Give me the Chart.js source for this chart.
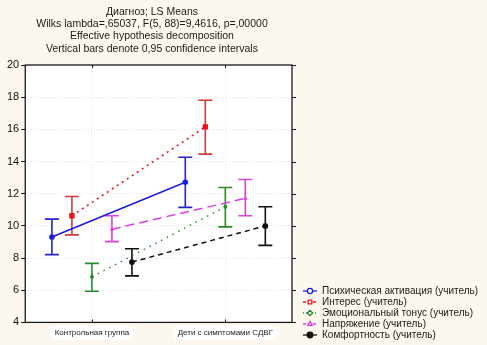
<!DOCTYPE html>
<html>
<head>
<meta charset="utf-8">
<script src="https://cdn.jsdelivr.net/npm/chart.js@4/dist/chart.umd.min.js"></script>
<style>
  html, body { margin: 0; padding: 0; background: #fcf8ef; }
  #wrap { width: 487px; height: 345px; position: relative; }
</style>
</head>
<body>
<div id="wrap"><canvas id="lsMeans"></canvas></div>
<script>
// ---------------------------------------------------------------- data
const titleLines = [
  'Диагноз; LS Means',
  'Wilks lambda=,65037, F(5, 88)=9,4616, p=,00000',
  'Effective hypothesis decomposition',
  'Vertical bars denote 0,95 confidence intervals'
];
const groups = ['Контрольная группа', 'Дети с симптомами СДВГ'];
const seriesNames = [
  'Психическая активация (учитель)',
  'Интерес (учитель)',
  'Эмоциональный тонус (учитель)',
  'Напряжение (учитель)',
  'Комфортность (учитель)'
];
// LS means per series, one value per group
const means = [
  [9.31, 12.71],
  [10.63, 16.15],
  [6.83, 11.19],
  [9.79, 11.71],
  [7.75, 10.0]
];
// 0.95 confidence limits
const lower = [
  [8.21, 11.15],
  [9.44, 14.46],
  [5.94, 9.94],
  [9.02, 10.63],
  [6.89, 8.79]
];
const upper = [
  [10.42, 14.27],
  [11.83, 17.81],
  [7.67, 12.39],
  [10.63, 12.88],
  [8.58, 11.19]
];
const yTicks = [4, 6, 8, 10, 12, 14, 16, 18, 20];

// ---------------------------------------------------------------- styles
const FONT = 'Arial, "Liberation Sans", sans-serif';
const STYLE = [
  { color: '#1c1ce0', bar: '#2626c8', dash: [],     point: 'circle',   r: 2.8, width: 1.5 },
  { color: '#e5161c', bar: '#d03c3c', dash: [2, 4], point: 'rect',     r: 3.8, width: 1.6 },
  { color: '#1f8a1f', bar: '#2a8a2a', dash: [1.5, 5], point: 'circle', r: 1.9, width: 1.4 },
  { color: '#e03ce0', bar: '#e040e0', dash: [9, 5], point: 'triangle', r: 2.6, width: 1.5 },
  { color: '#111111', bar: '#111111', dash: [5, 4], point: 'circle',   r: 2.9, width: 1.5 }
];
const OFFSETS = [-0.3, -0.15, 0, 0.15, 0.3]; // horizontal spread inside a group
const CAP = 7;

// ---------------------------------------------------------------- plugins
const plotFrame = {
  id: 'plotFrame',
  beforeDraw(chart) {
    const { ctx, chartArea: a } = chart;
    ctx.save();
    ctx.fillStyle = '#fcf8ef';
    ctx.fillRect(0, 0, chart.width, chart.height);
    ctx.fillStyle = '#ffffff';
    ctx.fillRect(a.left, a.top, a.right - a.left, a.bottom - a.top);
    ctx.restore();
  },
  afterDraw(chart) {
    const { ctx, chartArea: a, scales } = chart;
    ctx.save();
    ctx.strokeStyle = '#1a1a1a';
    ctx.lineWidth = 1.3;
    ctx.strokeRect(a.left, a.top, a.right - a.left, a.bottom - a.top);
    ctx.lineWidth = 1;
    ctx.beginPath();
    // outward ticks on the right edge
    yTicks.forEach((v) => {
      const y = Math.round(scales.y.getPixelForValue(v)) + 0.5;
      ctx.moveTo(a.right, y);
      ctx.lineTo(a.right + 4, y);
    });
    // group ticks on the top and bottom edges
    groups.forEach((g, j) => {
      const x = Math.round(scales.x.getPixelForValue(j)) + 0.5;
      ctx.moveTo(x, a.top);
      ctx.lineTo(x, a.top + 3);
      ctx.moveTo(x, a.bottom);
      ctx.lineTo(x, a.bottom - 3);
    });
    ctx.stroke();

    // title
    ctx.fillStyle = '#1a1a1a';
    ctx.font = '10.5px ' + FONT;
    ctx.textAlign = 'center';
    ctx.textBaseline = 'middle';
    titleLines.forEach((t, i) => ctx.fillText(t, 152, 12 + i * 12.3));

    // legend
    ctx.font = '10px ' + FONT;
    ctx.textAlign = 'left';
    seriesNames.forEach((name, i) => {
      const s = STYLE[i];
      const y = 291 + i * 11;
      ctx.strokeStyle = s.color;
      ctx.lineWidth = 1.3;
      ctx.setLineDash(i === 0 || i === 4 ? [] : i === 2 ? [1, 2] : [3, 2]);
      ctx.beginPath();
      ctx.moveTo(303, y);
      ctx.lineTo(317, y);
      ctx.stroke();
      ctx.setLineDash([]);
      ctx.fillStyle = i === 4 ? s.color : '#ffffff';
      Chart.helpers.drawPoint(ctx, {
        pointStyle: i === 2 ? 'rectRot' : s.point,
        radius: i === 4 ? 2.8 : 2.6,
        borderWidth: 1
      }, 310, y);
      ctx.fillStyle = '#1a1a1a';
      ctx.fillText(name, 322, y + 0.5);
    });
    ctx.restore();
  }
};

const errorBars = {
  id: 'errorBars',
  beforeDatasetsDraw(chart) {
    const { ctx, scales } = chart;
    ctx.save();
    seriesNames.forEach((name, i) => {
      ctx.strokeStyle = STYLE[i].bar;
      ctx.lineWidth = 1.6;
      groups.forEach((g, j) => {
        const x = scales.x.getPixelForValue(j + OFFSETS[i]);
        const yLo = scales.y.getPixelForValue(lower[i][j]);
        const yHi = scales.y.getPixelForValue(upper[i][j]);
        ctx.beginPath();
        ctx.moveTo(x, yLo);
        ctx.lineTo(x, yHi);
        ctx.moveTo(x - CAP, yLo);
        ctx.lineTo(x + CAP, yLo);
        ctx.moveTo(x - CAP, yHi);
        ctx.lineTo(x + CAP, yHi);
        ctx.stroke();
      });
    });
    ctx.restore();
  }
};

// ---------------------------------------------------------------- chart
const datasets = seriesNames.map((name, i) => ({
  label: name,
  data: groups.map((g, j) => ({ x: j + OFFSETS[i], y: means[i][j] })),
  borderColor: STYLE[i].color,
  backgroundColor: STYLE[i].color,
  borderWidth: STYLE[i].width,
  borderDash: STYLE[i].dash,
  pointStyle: STYLE[i].point,
  pointRadius: STYLE[i].r,
  pointBorderWidth: 0,
  pointHoverRadius: STYLE[i].r,
  showLine: true,
  tension: 0
}));

new Chart(document.getElementById('lsMeans'), {
  type: 'scatter',
  data: { datasets },
  options: {
    responsive: true,
    maintainAspectRatio: false,
    animation: false,
    events: [],
    layout: { padding: { top: 65, left: 5, right: 195, bottom: 1 } },
    plugins: {
      legend: { display: false },
      title: { display: false },
      tooltip: { enabled: false }
    },
    scales: {
      x: {
        type: 'linear',
        min: -0.5,
        max: 1.5,
        afterBuildTicks: (scale) => {
          scale.ticks = groups.map((g, j) => ({ value: j }));
        },
        border: { display: false, dash: [1, 2] },
        grid: { color: '#e4e4e4', drawTicks: false },
        ticks: {
          padding: 6,
          color: '#222',
          font: { family: FONT, size: 8 },
          maxRotation: 0,
          showLabelBackdrop: true,
          backdropColor: '#ffffff',
          backdropPadding: { x: 4, y: 2 },
          callback: (v) => groups[v]
        }
      },
      y: {
        min: 4,
        max: 20,
        afterBuildTicks: (scale) => {
          scale.ticks = yTicks.map((v) => ({ value: v }));
        },
        border: { display: false, dash: [1, 2] },
        grid: { color: '#e4e4e4', tickColor: '#111', tickLength: 4, tickBorderDash: [] },
        ticks: {
          padding: 2,
          color: '#111',
          font: { family: FONT, size: 11 }
        }
      }
    }
  },
  plugins: [plotFrame, errorBars]
});
</script>
</body>
</html>
